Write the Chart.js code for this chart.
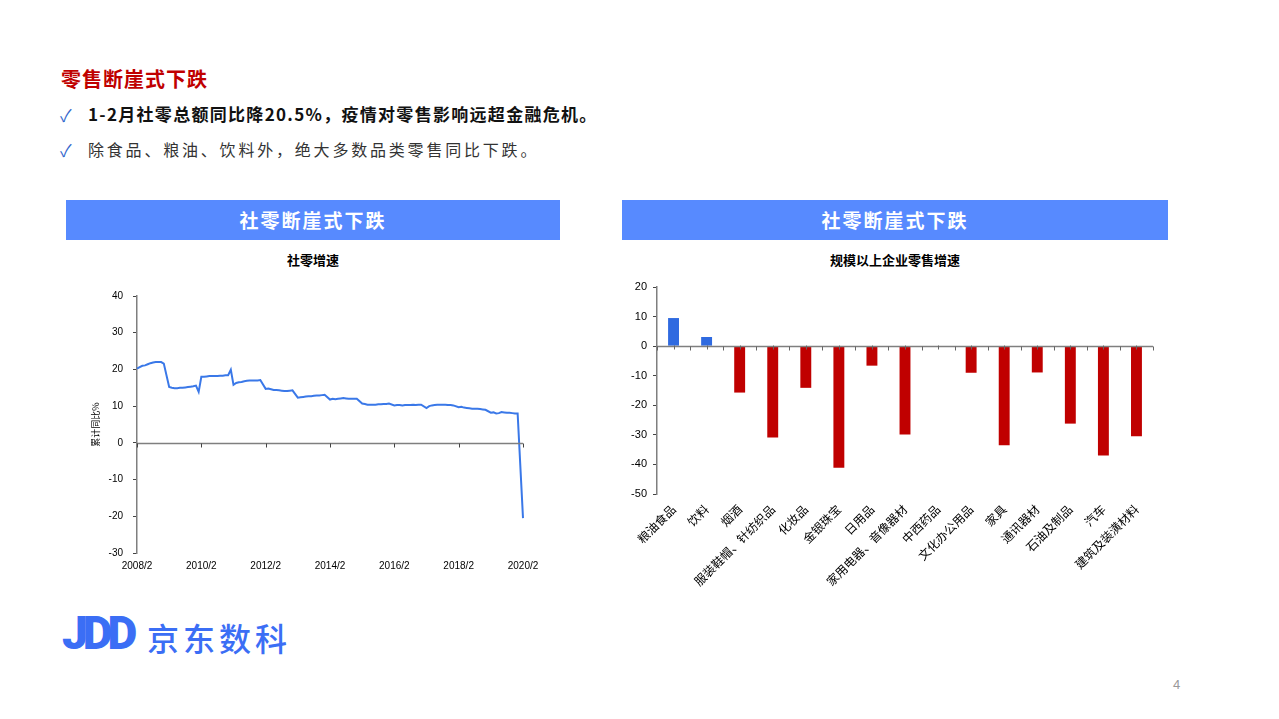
<!DOCTYPE html>
<html>
<head>
<meta charset="utf-8">
<script src="https://cdn.jsdelivr.net/npm/chart.js@4/dist/chart.umd.min.js"></script>
<style>
  body { margin: 0; background: #fff; font-family: "Noto Sans CJK SC", "Noto Sans", sans-serif; }
  #page { position: relative; width: 1279px; height: 719px; overflow: hidden; }
  .abs { position: absolute; white-space: nowrap; }
  .head { color: #c00000; font-weight: 700; font-size: 20px; left: 61px; top: 64px; letter-spacing: 1px; }
  .chk { color: #3366cc; font-size: 17px; left: 60px; }
  .l1 { left: 88px; top: 101px; font-size: 17px; font-weight: 700; color: #111; letter-spacing: 1.3px; }
  .l2 { left: 88px; top: 137px; font-size: 16px; color: #333; letter-spacing: 2.8px; }
  .box { background: #578aff; color: #fff; font-weight: 700; font-size: 19px; letter-spacing: 2px;
         height: 40px; line-height: 40px; text-align: center; top: 200px; }
  .ctitle { font-size: 13px; font-weight: 700; color: #000; text-align: center; top: 250px; }
  canvas { position: absolute; }
  .logo { left: 62px; top: 606px; color: #3b6ef5; font-family: Roboto, sans-serif; font-weight: 900;
          font-size: 46px; letter-spacing: -5px; }
  .logotxt { left: 147px; top: 614px; color: #3b6ef5; font-size: 32px; font-weight: 500; letter-spacing: 4px; }
  .pnum { left: 1173px; top: 677px; color: #999; font-size: 13px; font-family: "Liberation Sans", sans-serif; }
</style>
</head>
<body>
<div id="page">
  <div class="abs head">零售断崖式下跌</div>
  <div class="abs chk" style="top:102px">✓</div>
  <div class="abs l1">1-2月社零总额同比降20.5%，疫情对零售影响远超金融危机。</div>
  <div class="abs chk" style="top:137px">✓</div>
  <div class="abs l2">除食品、粮油、饮料外，绝大多数品类零售同比下跌。</div>

  <div class="abs box" style="left:66px;width:494px">社零断崖式下跌</div>
  <div class="abs box" style="left:622px;width:546px">社零断崖式下跌</div>
  <div class="abs ctitle" style="left:66px;width:494px">社零增速</div>
  <div class="abs ctitle" style="left:622px;width:546px">规模以上企业零售增速</div>

  <canvas id="lineChart" width="460" height="300" style="left:90px;top:280px"></canvas>
  <canvas id="barChart" width="550" height="330" style="left:620px;top:270px"></canvas>

  <div class="abs logo">JDD</div>
  <div class="abs logotxt">京东数科</div>
  <div class="abs pnum">4</div>
</div>

<script>
// 社零累计同比 (%), one array per year, Jan..Dec (2008 starts at Feb)
const y2008 = [20.2, 20.6, 21.0, 21.1, 21.4, 21.7, 21.9, 22.0, 22.0, 22.0, 21.6];
const y2009 = [null, 15.2, 15.0, 14.9, 14.9, 15.0, 15.0, 15.1, 15.2, 15.3, 15.4, 15.6];
const y2010 = [13.9, 18.0, 18.0, 18.1, 18.2, 18.2, 18.2, 18.2, 18.3, 18.3, 18.4, 18.4];
const y2011 = [19.9, 15.8, 16.3, 16.5, 16.6, 16.8, 16.9, 17.0, 17.0, 17.0, 17.0, 17.1];
const y2012 = [null, 14.7, 14.8, 14.6, 14.4, 14.4, 14.3, 14.2, 14.1, 14.1, 14.2, 14.3];
const y2013 = [null, 12.3, 12.4, 12.5, 12.6, 12.7, 12.7, 12.8, 12.9, 12.9, 13.0, 13.1];
const y2014 = [null, 11.8, 12.0, 11.9, 12.0, 12.1, 12.2, 12.1, 12.0, 12.0, 12.0, 12.0];
const y2015 = [null, 10.7, 10.6, 10.4, 10.4, 10.4, 10.4, 10.5, 10.5, 10.6, 10.6, 10.7];
const y2016 = [null, 10.2, 10.3, 10.3, 10.2, 10.3, 10.3, 10.3, 10.4, 10.3, 10.4, 10.4];
const y2017 = [null, 9.5, 10.0, 10.2, 10.3, 10.4, 10.4, 10.4, 10.4, 10.3, 10.3, 10.2];
const y2018 = [null, 9.7, 9.8, 9.6, 9.5, 9.4, 9.3, 9.3, 9.3, 9.2, 9.1, 9.0];
const y2019 = [null, 8.2, 8.3, 8.0, 8.1, 8.4, 8.3, 8.2, 8.2, 8.1, 8.0, 8.0];
const y2020 = [null, -20.5];
const lineTicks = [-30, -20, -10, 0, 10, 20, 30, 40];

// 规模以上企业零售增速 (%)
const categories = ['粮油食品', '饮料', '烟酒', '服装鞋帽、针纺织品', '化妆品', '金银珠宝', '日用品',
  '家用电器、音像器材', '中西药品', '文化办公用品', '家具', '通讯器材', '石油及制品', '汽车', '建筑及装潢材料'];
const growth = [9.5, 3.1, -15.7, -30.9, -14.1, -41.1, -6.6, -29.9, -0.2, -9.0, -33.5, -8.9, -26.2, -37.0, -30.5];
const barTicks = [-50, -40, -30, -20, -10, 0, 10, 20];

const years = [y2008, y2009, y2010, y2011, y2012, y2013, y2014, y2015, y2016, y2017, y2018, y2019, y2020];
const monthLabels = [];
const monthValues = [];
years.forEach((arr, yi) => {
  const year = 2008 + yi;
  const start = year === 2008 ? 2 : 1;
  arr.forEach((v, k) => {
    monthLabels.push(`${year}/${start + k}`);
    monthValues.push(v);
  });
});

const tickFont = { family: '"Liberation Sans", Arial, sans-serif', size: 10 };

// zero line drawn across the plot with its tick marks
const zeroLine = {
  id: 'zeroLine',
  afterDatasetsDraw(chart, args, opts) {
    const { ctx, chartArea, scales } = chart;
    const y0 = Math.round(scales.y.getPixelForValue(0)) + 0.5;
    ctx.save();
    ctx.strokeStyle = '#7f7f7f';
    ctx.lineWidth = 1.5;
    ctx.beginPath();
    ctx.moveTo(chartArea.left, y0);
    ctx.lineTo(chartArea.right, y0);
    ctx.stroke();
    ctx.lineWidth = 1;
    ctx.strokeStyle = opts.tickColor || '#444';
    ctx.beginPath();
    if (opts.mode === 'bands') {
      const n = chart.data.labels.length;
      for (let i = 0; i <= n; i += 1) {
        const x = Math.round(scales.x.getPixelForValue(i - 0.5)) + 0.5;
        ctx.moveTo(x, y0);
        ctx.lineTo(x, y0 + 4);
      }
      for (let i = 0; i < n; i += 1) {
        const x = Math.round(scales.x.getPixelForValue(i)) + 0.5;
        ctx.moveTo(x, y0 - 1);
        ctx.lineTo(x, y0 + 3);
      }
    } else {
      chart.data.labels.forEach((l, i) => {
        if (i % 24 === 0) {
          const x = Math.round(scales.x.getPixelForValue(i)) + 0.5;
          ctx.moveTo(x, y0);
          ctx.lineTo(x, y0 + 4);
        }
      });
    }
    ctx.stroke();
    ctx.restore();
  },
};

function drawLine() {
  const ctx = document.getElementById('lineChart');
  // eslint-disable-next-line no-unused-vars,no-undef
  const lineChart = new Chart(ctx, {
    type: 'line',
    data: {
      labels: monthLabels,
      datasets: [{
        data: monthValues,
        borderColor: '#3a78e8',
        borderWidth: 2,
        pointRadius: 0,
        tension: 0,
        spanGaps: true,
      }],
    },
    options: {
      responsive: false,
      animation: false,
      devicePixelRatio: 1,
      layout: { padding: { top: 13, right: 27, left: 0, bottom: 0 } },
      plugins: { legend: { display: false }, tooltip: { enabled: false }, zeroLine: { mode: 'years' } },
      scales: {
        x: {
          type: 'category',
          offset: false,
          grid: { display: false, drawTicks: false },
          border: { display: false },
          afterFit: (s) => { s.height = 27; },
          ticks: {
            autoSkip: false,
            maxRotation: 0,
            minRotation: 0,
            padding: 7,
            color: '#000',
            font: tickFont,
            callback: (v, i) => (i % 24 === 0 ? monthLabels[i] : ''),
          },
        },
        y: {
          min: -30,
          max: 40,
          afterFit: (s) => { s.width = 47; },
          afterBuildTicks: (s) => { s.ticks = lineTicks.map((v) => ({ value: v })); },
          grid: { drawOnChartArea: false, drawTicks: true, tickLength: 4, color: '#444' },
          border: { color: '#7f7f7f', width: 1.5 },
          title: { display: true, text: '累计同比%', font: { family: '"Noto Sans CJK SC"', size: 9 }, color: '#000', padding: { top: 0, bottom: 0 } },
          ticks: { color: '#000', font: tickFont, padding: 10 },
        },
      },
    },
    plugins: [zeroLine],
  });
}

function drawBars() {
  const ctx = document.getElementById('barChart');
  // eslint-disable-next-line no-unused-vars,no-undef
  const barChart = new Chart(ctx, {
    type: 'bar',
    data: {
      labels: categories,
      datasets: [{
        data: growth,
        backgroundColor: (c) => (c.raw > -1 ? '#2f6ae0' : '#c00000'),
        barPercentage: 0.33,
        categoryPercentage: 1,
      }],
    },
    options: {
      responsive: false,
      animation: false,
      devicePixelRatio: 1,
      layout: { padding: { top: 17, right: 17, left: 0, bottom: 0 } },
      plugins: { legend: { display: false }, tooltip: { enabled: false }, zeroLine: { mode: 'bands', tickColor: '#666' } },
      scales: {
        x: {
          grid: { display: false, drawTicks: false },
          border: { display: false },
          afterFit: (s) => { s.height = 106; },
          ticks: {
            autoSkip: false,
            maxRotation: 45,
            minRotation: 45,
            padding: 8,
            color: '#000',
            font: { family: '"Noto Sans CJK SC"', size: 12 },
          },
        },
        y: {
          min: -50,
          max: 20,
          afterFit: (s) => { s.width = 37; },
          afterBuildTicks: (s) => { s.ticks = barTicks.map((v) => ({ value: v })); },
          grid: { drawOnChartArea: false, drawTicks: true, tickLength: 4, color: '#444' },
          border: { color: '#7f7f7f', width: 1.5 },
          ticks: { color: '#000', font: { family: '"Liberation Sans", Arial, sans-serif', size: 11 }, padding: 6 },
        },
      },
    },
    plugins: [zeroLine],
  });
}

document.addEventListener('DOMContentLoaded', () => {
  drawLine();
  drawBars();
});
</script>
</body>
</html>
